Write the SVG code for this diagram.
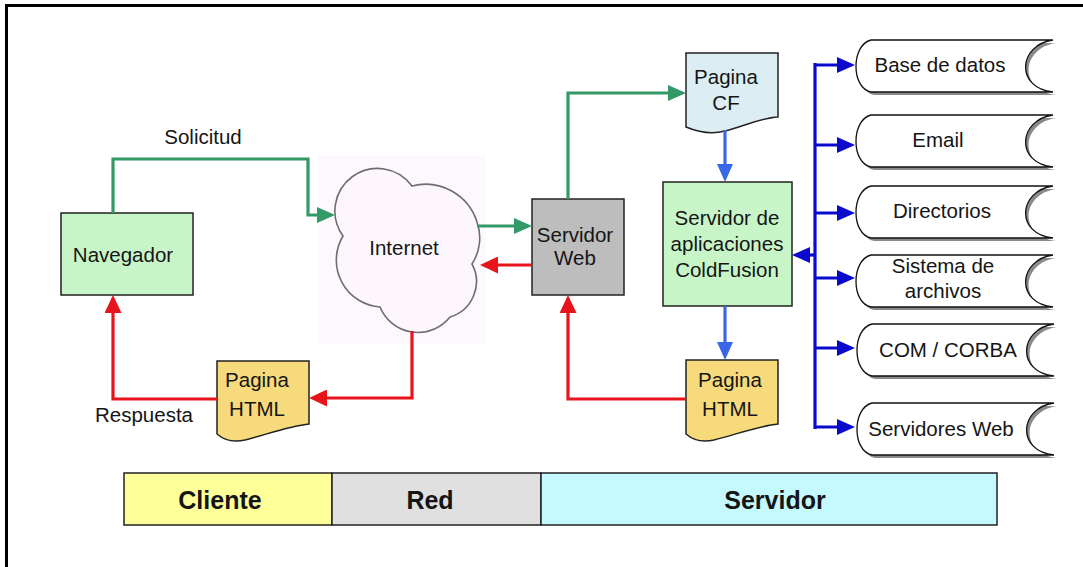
<svg xmlns="http://www.w3.org/2000/svg" width="1083" height="567" viewBox="0 0 1083 567">
<style>
text{font-family:"Liberation Sans",Arial,sans-serif;font-size:20.5px;fill:#151515;text-anchor:middle}
.band text{font-weight:bold;font-size:25px}
.box{stroke:#222;stroke-width:1.5}
.ln{fill:none;stroke-width:3.2;stroke-linejoin:miter}
.g{stroke:#339966}.r{stroke:#e8141b}.b{stroke:#0a0acc}.lb{stroke:#3a66e8}
.drum{fill:#fff;stroke:#111;stroke-width:1.3}
.shadow{fill:#8a8a8a}
</style>
<defs>
<marker id="mg" markerUnits="userSpaceOnUse" markerWidth="18" markerHeight="16" viewBox="0 0 18 16" refX="14" refY="8" orient="auto"><path d="M0,0 L18,8 L0,16 z" fill="#339966"/></marker>
<marker id="mr" markerUnits="userSpaceOnUse" markerWidth="18" markerHeight="17" viewBox="0 0 18 17" refX="14" refY="8.5" orient="auto"><path d="M0,0 L18,8.5 L0,17 z" fill="#e8141b"/></marker>
<marker id="mb" markerUnits="userSpaceOnUse" markerWidth="18" markerHeight="16" viewBox="0 0 18 16" refX="14" refY="8" orient="auto"><path d="M0,0 L18,8 L0,16 z" fill="#0a0acc"/></marker>
<marker id="mlb" markerUnits="userSpaceOnUse" markerWidth="18" markerHeight="16" viewBox="0 0 18 16" refX="14" refY="8" orient="auto"><path d="M0,0 L18,8 L0,16 z" fill="#3a66e8"/></marker>
<path id="drumShape" d="M15,0 H197 C162,5 159,48 197,52 H15 C-5,48 -5,5 15,0 Z"/>
</defs>
<rect width="1083" height="567" fill="#fff"/>
<line x1="5" y1="5.5" x2="1083" y2="5.5" stroke="#000" stroke-width="3"/>
<line x1="6.5" y1="4" x2="6.5" y2="567" stroke="#000" stroke-width="3"/>

<g id="navegador">
<rect class="box" x="61" y="213" width="132" height="82" fill="#c8f5c8"/>
<text x="123" y="262">Navegador</text>
</g>

<g id="internet">
<rect x="318" y="156" width="168" height="188" fill="#fdf8fd"/>
<path d="M343,236 A42,42 0 0 1 412,186 A54,54 0 0 1 477,222 A48,48 0 0 1 472,264 A37,37 0 0 1 450,317 A41,41 0 0 1 380,307 A47,47 0 0 1 343,236 Z" fill="#fdf7fd" stroke="#6e6e6e" stroke-width="1.6"/>
<text x="404" y="255">Internet</text>
</g>

<g id="servidor-web">
<rect class="box" x="532" y="199" width="92" height="96" fill="#bdbdbd"/>
<text x="575" y="242">Servidor</text>
<text x="575" y="265">Web</text>
</g>

<g id="pagina-cf">
<path class="box" d="M686,53 H778 V117 C760,118 745,126 725,131 C710,135 698,132 686,127 Z" fill="#dcedf4"/>
<text x="726" y="84">Pagina</text>
<text x="726" y="110">CF</text>
</g>

<g id="coldfusion">
<rect class="box" x="663" y="182" width="129" height="124" fill="#c8f5c8"/>
<text x="727" y="225">Servidor de</text>
<text x="727" y="251">aplicaciones</text>
<text x="727" y="277">ColdFusion</text>
</g>

<g id="pagina-html-cliente">
<path class="box" d="M217,361 H309 V424 C290,426 268,434 245,440 C232,443 224,440 217,434 Z" fill="#f6da7c"/>
<text x="257" y="387">Pagina</text>
<text x="257" y="416">HTML</text>
</g>

<g id="pagina-html-servidor">
<path class="box" d="M686,360 H778 V424 C759,426 737,434 714,440 C701,443 693,440 686,434 Z" fill="#f6da7c"/>
<text x="730" y="387">Pagina</text>
<text x="730" y="416">HTML</text>
</g>

<g id="base-de-datos" transform="translate(856,40)">
<use href="#drumShape" class="shadow" transform="translate(3,3)"/>
<use href="#drumShape" class="drum"/>
<text x="84" y="32">Base de datos</text>
</g>
<g id="email" transform="translate(856,115)">
<use href="#drumShape" class="shadow" transform="translate(3,3)"/>
<use href="#drumShape" class="drum"/>
<text x="82" y="32">Email</text>
</g>
<g id="directorios" transform="translate(856,186)">
<use href="#drumShape" class="shadow" transform="translate(3,3)"/>
<use href="#drumShape" class="drum"/>
<text x="86" y="32">Directorios</text>
</g>
<g id="sistema-de-archivos" transform="translate(856,255)">
<use href="#drumShape" class="shadow" transform="translate(3,3)"/>
<use href="#drumShape" class="drum"/>
<text x="87" y="18">Sistema de</text>
<text x="87" y="43">archivos</text>
</g>
<g id="com-corba" transform="translate(857,324)">
<use href="#drumShape" class="shadow" transform="translate(3,3)"/>
<use href="#drumShape" class="drum"/>
<text x="91" y="33">COM / CORBA</text>
</g>
<g id="servidores-web" transform="translate(857,403)">
<use href="#drumShape" class="shadow" transform="translate(3,3)"/>
<use href="#drumShape" class="drum"/>
<text x="84" y="33">Servidores Web</text>
</g>

<g id="bandas" class="band">
<rect class="box" x="124" y="473" width="208" height="52" fill="#ffff99"/>
<rect class="box" x="332" y="473" width="209" height="52" fill="#e0e0e0"/>
<rect class="box" x="541" y="473" width="456" height="52" fill="#c4fafd"/>
<text x="220" y="509">Cliente</text>
<text x="430" y="509">Red</text>
<text x="775" y="509">Servidor</text>
</g>

<g id="connectors">
<path class="ln g" d="M113,213 V159 H308 V215 H331" marker-end="url(#mg)"/>
<path class="ln g" d="M477,226 H528" marker-end="url(#mg)"/>
<path class="ln g" d="M568,199 V93 H682" marker-end="url(#mg)"/>
<path class="ln r" d="M532,265 H484" marker-end="url(#mr)"/>
<path class="ln r" d="M412,331 V398 H313" marker-end="url(#mr)"/>
<path class="ln r" d="M217,399 H113 V299" marker-end="url(#mr)"/>
<path class="ln r" d="M686,399 H568 V299" marker-end="url(#mr)"/>
<path class="ln lb" d="M725,130 V178" marker-end="url(#mlb)"/>
<path class="ln lb" d="M725,306 V356" marker-end="url(#mlb)"/>
<path class="ln b" d="M815,63 V429"/>
<path class="ln b" d="M815,65 H851" marker-end="url(#mb)"/>
<path class="ln b" d="M815,145 H851" marker-end="url(#mb)"/>
<path class="ln b" d="M815,213 H851" marker-end="url(#mb)"/>
<path class="ln b" d="M815,278 H851" marker-end="url(#mb)"/>
<path class="ln b" d="M815,348 H851" marker-end="url(#mb)"/>
<path class="ln b" d="M815,427 H851" marker-end="url(#mb)"/>
<path class="ln b" d="M815,255 H796" marker-end="url(#mb)"/>
<text x="203" y="144">Solicitud</text>
<text x="193" y="422" style="text-anchor:end">Respuesta</text>
</g>
</svg>
